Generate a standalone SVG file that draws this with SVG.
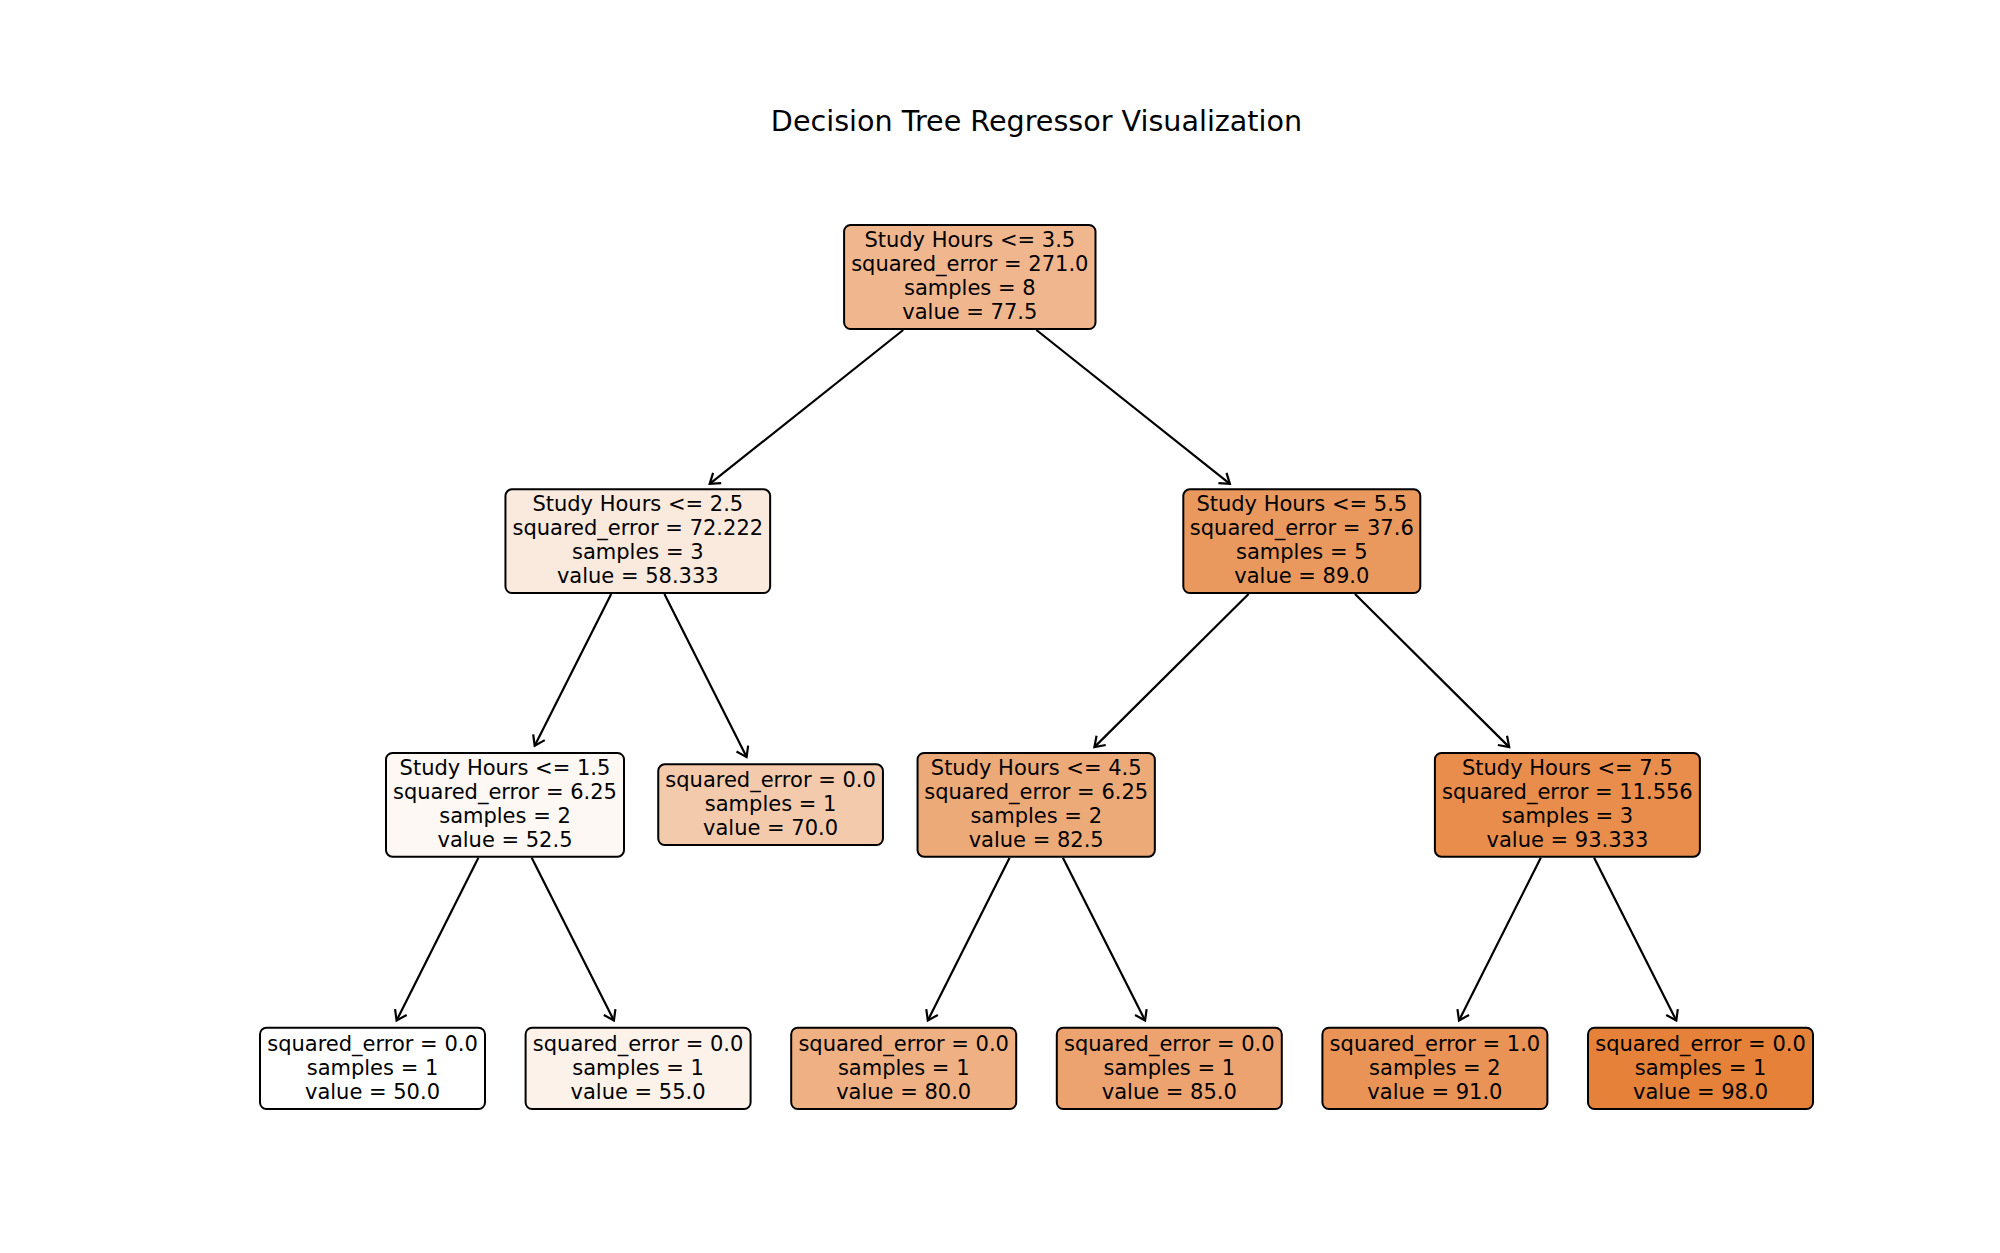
<svg xmlns="http://www.w3.org/2000/svg" width="2000" height="1253" viewBox="0 0 2000 1253">
<style>
.box{stroke:#000;stroke-width:2}
.t{font-family:"DejaVu Sans","Liberation Sans",sans-serif;font-size:21px;fill:#000;text-anchor:middle}
.title{font-family:"DejaVu Sans","Liberation Sans",sans-serif;font-size:28.6px;fill:#000;text-anchor:middle}
.edge{stroke:#000;stroke-width:2.2;fill:none;marker-end:url(#ah)}
</style>
<defs>
<marker id="ah" markerUnits="userSpaceOnUse" markerWidth="24" markerHeight="24" viewBox="-12 -12 24 24" refX="0" refY="0" orient="auto" overflow="visible">
<path d="M-9.5,-6.5 L0,0 L-9.5,6.5" fill="none" stroke="#000" stroke-width="2.2" stroke-linejoin="miter"/>
</marker>
</defs>
<rect width="2000" height="1253" fill="#fff"/>
<text class="title" x="1036.5" y="131">Decision Tree Regressor Visualization</text>
<g id="connectors">
<line class="edge" x1="903.2" y1="330" x2="709.7" y2="483.9"/>
<line class="edge" x1="1036.4" y1="330" x2="1229.9" y2="483.9"/>
<line class="edge" x1="611.2" y1="594" x2="534.7" y2="745.7"/>
<line class="edge" x1="664.4" y1="594" x2="746.6" y2="757.1"/>
<line class="edge" x1="1248.6" y1="594" x2="1094.4" y2="747.1"/>
<line class="edge" x1="1355.0" y1="594" x2="1509.2" y2="747.1"/>
<line class="edge" x1="478.4" y1="857.7" x2="396.6" y2="1020.5"/>
<line class="edge" x1="531.7" y1="857.7" x2="613.9" y2="1020.5"/>
<line class="edge" x1="1009.6" y1="857.7" x2="927.8" y2="1020.5"/>
<line class="edge" x1="1062.9" y1="857.7" x2="1145.1" y2="1020.5"/>
<line class="edge" x1="1540.8" y1="857.7" x2="1459.0" y2="1020.5"/>
<line class="edge" x1="1594.1" y1="857.7" x2="1676.3" y2="1020.5"/>
</g>
<g id="node0">
<rect class="box" x="844.1" y="225" width="251.4" height="104" rx="6.5" fill="#f0b78e"/>
<text class="t"><tspan x="969.8" y="247">Study Hours &lt;= 3.5</tspan><tspan x="969.8" y="271">squared_error = 271.0</tspan><tspan x="969.8" y="295">samples = 8</tspan><tspan x="969.8" y="319">value = 77.5</tspan></text>
</g>
<g id="node1">
<rect class="box" x="505.45" y="489.3" width="264.7" height="103.7" rx="6.5" fill="#fae9dd"/>
<text class="t"><tspan x="637.8" y="511.2">Study Hours &lt;= 2.5</tspan><tspan x="637.8" y="535.2">squared_error = 72.222</tspan><tspan x="637.8" y="559.2">samples = 3</tspan><tspan x="637.8" y="583.2">value = 58.333</tspan></text>
</g>
<g id="node2">
<rect class="box" x="386" y="753" width="238" height="103.7" rx="6.5" fill="#fef8f5"/>
<text class="t"><tspan x="505" y="775">Study Hours &lt;= 1.5</tspan><tspan x="505" y="799">squared_error = 6.25</tspan><tspan x="505" y="823">samples = 2</tspan><tspan x="505" y="847">value = 52.5</tspan></text>
</g>
<g id="node3">
<rect class="box" x="260" y="1027.7" width="225" height="81.3" rx="6.5" fill="#ffffff"/>
<text class="t"><tspan x="372.5" y="1050.8">squared_error = 0.0</tspan><tspan x="372.5" y="1074.8">samples = 1</tspan><tspan x="372.5" y="1098.8">value = 50.0</tspan></text>
</g>
<g id="node4">
<rect class="box" x="525.6" y="1027.7" width="225" height="81.3" rx="6.5" fill="#fcf2ea"/>
<text class="t"><tspan x="638.1" y="1050.8">squared_error = 0.0</tspan><tspan x="638.1" y="1074.8">samples = 1</tspan><tspan x="638.1" y="1098.8">value = 55.0</tspan></text>
</g>
<g id="node5">
<rect class="box" x="658.25" y="764.3" width="224.7" height="80.7" rx="6.5" fill="#f4caac"/>
<text class="t"><tspan x="770.6" y="787.2">squared_error = 0.0</tspan><tspan x="770.6" y="811.2">samples = 1</tspan><tspan x="770.6" y="835.2">value = 70.0</tspan></text>
</g>
<g id="node6">
<rect class="box" x="1183.3" y="489.3" width="237" height="103.7" rx="6.5" fill="#ea995e"/>
<text class="t"><tspan x="1301.8" y="511.2">Study Hours &lt;= 5.5</tspan><tspan x="1301.8" y="535.2">squared_error = 37.6</tspan><tspan x="1301.8" y="559.2">samples = 5</tspan><tspan x="1301.8" y="583.2">value = 89.0</tspan></text>
</g>
<g id="node7">
<rect class="box" x="917.55" y="753" width="237.3" height="103.7" rx="6.5" fill="#edaa79"/>
<text class="t"><tspan x="1036.2" y="775">Study Hours &lt;= 4.5</tspan><tspan x="1036.2" y="799">squared_error = 6.25</tspan><tspan x="1036.2" y="823">samples = 2</tspan><tspan x="1036.2" y="847">value = 82.5</tspan></text>
</g>
<g id="node8">
<rect class="box" x="791.2" y="1027.7" width="225" height="81.3" rx="6.5" fill="#efb083"/>
<text class="t"><tspan x="903.7" y="1050.8">squared_error = 0.0</tspan><tspan x="903.7" y="1074.8">samples = 1</tspan><tspan x="903.7" y="1098.8">value = 80.0</tspan></text>
</g>
<g id="node9">
<rect class="box" x="1056.8" y="1027.7" width="225" height="81.3" rx="6.5" fill="#eca36f"/>
<text class="t"><tspan x="1169.3" y="1050.8">squared_error = 0.0</tspan><tspan x="1169.3" y="1074.8">samples = 1</tspan><tspan x="1169.3" y="1098.8">value = 85.0</tspan></text>
</g>
<g id="node10">
<rect class="box" x="1434.9" y="753" width="265" height="103.7" rx="6.5" fill="#e88d4c"/>
<text class="t"><tspan x="1567.4" y="775">Study Hours &lt;= 7.5</tspan><tspan x="1567.4" y="799">squared_error = 11.556</tspan><tspan x="1567.4" y="823">samples = 3</tspan><tspan x="1567.4" y="847">value = 93.333</tspan></text>
</g>
<g id="node11">
<rect class="box" x="1322.4" y="1027.7" width="225" height="81.3" rx="6.5" fill="#e99356"/>
<text class="t"><tspan x="1434.9" y="1050.8">squared_error = 1.0</tspan><tspan x="1434.9" y="1074.8">samples = 2</tspan><tspan x="1434.9" y="1098.8">value = 91.0</tspan></text>
</g>
<g id="node12">
<rect class="box" x="1588" y="1027.7" width="225" height="81.3" rx="6.5" fill="#e58139"/>
<text class="t"><tspan x="1700.5" y="1050.8">squared_error = 0.0</tspan><tspan x="1700.5" y="1074.8">samples = 1</tspan><tspan x="1700.5" y="1098.8">value = 98.0</tspan></text>
</g>
</svg>
